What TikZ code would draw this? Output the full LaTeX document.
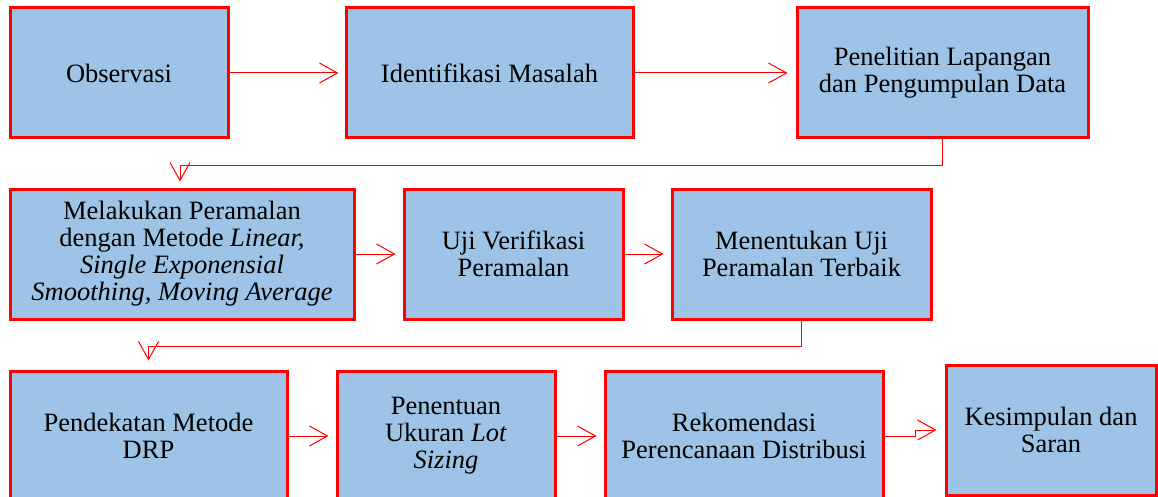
\documentclass[tikz,border=0pt]{standalone}
\usepackage{fontspec}
\setmainfont{Liberation Serif}
\usetikzlibrary{arrows.meta}
\definecolor{boxfill}{RGB}{157,195,230}
\definecolor{boxline}{RGB}{255,0,0}
\tikzset{
  flowbox/.style={draw=boxline, line width=3pt, fill=boxfill, minimum height=130pt,
    align=center, inner sep=0pt, text=black,
    font=\fontsize{26.5pt}{27pt}\selectfont},
  conn/.style={draw=boxline, line width=1pt, shorten >=7pt,
    -{Straight Barb[length=18pt,width=20pt,line width=1pt]}}
}
\begin{document}
\begin{tikzpicture}[x=1pt,y=-1pt]
\useasboundingbox (0,0) rectangle (1158,497);
% row 1
\node[flowbox, minimum width=218pt] (obs) at (119,73) {Observasi};
\node[flowbox, minimum width=287pt] (ide) at (489.5,73) {Identifikasi Masalah};
\node[flowbox, minimum width=291pt] (pen) at (942.5,73) {Penelitian Lapangan\\dan Pengumpulan Data};
% row 2
\node[flowbox, minimum width=344pt] (mel) at (182,254) {Melakukan Peramalan\\dengan Metode \textit{Linear,}\\\textit{Single Exponensial}\\\textit{Smoothing, Moving Average}};
\node[flowbox, minimum width=219pt] (uji) at (513.5,254) {Uji Verifikasi\\Peramalan};
\node[flowbox, minimum width=259pt] (men) at (801.5,254) {Menentukan Uji\\Peramalan Terbaik};
% row 3
\node[flowbox, minimum width=277pt] (pdk) at (148.5,436) {Pendekatan Metode\\DRP};
\node[flowbox, minimum width=218pt] (pnt) at (446,436) {Penentuan\\Ukuran \textit{Lot}\\\textit{Sizing}};
\node[flowbox, minimum width=278pt] (rek) at (744,436) {Rekomendasi\\Perencanaan Distribusi};
\node[flowbox, minimum width=210pt] (kes) at (1051,430) {Kesimpulan dan\\Saran};
% connectors
\draw[conn, shorten >=6pt] (obs) -- (ide);
\draw[conn, shorten >=8pt] (ide) -- (pen);
\draw[conn, shorten >=6pt] (pen.south) -- ++(0,26) -| ([xshift=-2pt]mel.north);
\draw[conn] (mel) -- (uji);
\draw[conn] (uji) -- (men);
\draw[conn, shorten >=9pt] (men.south) -- ++(0,26) -| (pdk.north);
\draw[conn] (pdk) -- (pnt);
\draw[conn] (pnt) -- (rek);
\draw[conn, shorten >=8pt] (rek.east) -- ++(31,0) |- (kes.west);
\end{tikzpicture}
\end{document}
